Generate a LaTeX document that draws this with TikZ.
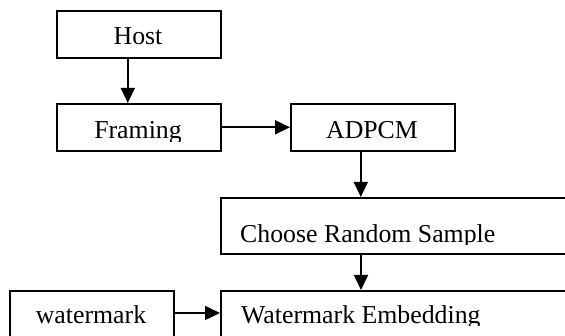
\documentclass[tikz,border=0pt]{standalone}
\usepackage{fontspec}
\setmainfont{Liberation Serif}
\usetikzlibrary{arrows.meta}
\begin{document}
\begin{tikzpicture}[x=1pt,y=-1pt,
  box/.style={draw=black, line width=1.6pt, rectangle, minimum width=164pt, minimum height=47pt, inner sep=0pt, anchor=north west},
  lbl/.style={inner sep=0pt, anchor=base, font=\fontsize{25.8}{30}\selectfont},
  conn/.style={line width=1.6pt, -{Triangle[length=15pt,width=14pt]}}]
\useasboundingbox (0,0) rectangle (565,336);
\clip (0,0) rectangle (565,336);
% boxes
\node[box] (host) at (56,10) {};
\node[box] (framing) at (56,103) {};
\node[box] (adpcm) at (290,103) {};
\node[box, minimum width=400pt, minimum height=56pt] (choose) at (220,197) {};
\node[box, minimum width=400pt, minimum height=100pt] (embed) at (220,290) {};
\node[box, minimum height=100pt] (wm) at (9,290) {};
% texts
\node[lbl] (thost) at (138,45) {Host};
\begin{scope}
  \clip (57,104) rectangle (219,141.5);
  \node[lbl] (tframing) at (138,139) {Framing};
\end{scope}
\node[lbl] (tadpcm) at (372,139) {ADPCM};
\begin{scope}
  \clip (221,198) rectangle (565,245);
  \node[lbl, anchor=base west] (tchoose) at (240,243) {Choose Random Sample};
\end{scope}
\begin{scope}
  \clip (221,291) rectangle (565,326);
  \node[lbl, anchor=base west] (tembed) at (241,324) {Watermark Embedding};
\end{scope}
\node[lbl] (twm) at (91,324) {watermark};
% connectors
\coordinate (c1) at (361,0);
\coordinate (c2) at (0,313);
\draw[conn] ([xshift=-11pt]host.south) -- ([xshift=-11pt]framing.north);
\draw[conn] (framing.east) -- (adpcm.west);
\draw[conn] ([xshift=-12pt]adpcm.south) -- ([xshift=-12pt]adpcm.south |- choose.north);
\draw[conn] (c1 |- choose.south) -- (c1 |- embed.north);
\draw[conn] (c2 -| wm.east) -- (c2 -| embed.west);
\end{tikzpicture}
\end{document}
